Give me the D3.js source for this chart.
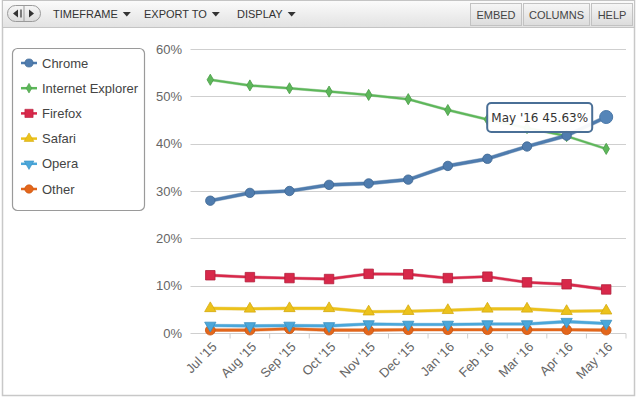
<!DOCTYPE html>
<html><head><meta charset="utf-8">
<script src="https://cdn.jsdelivr.net/npm/d3@7"></script>
<style>
body{margin:0;background:#fff;}
svg{display:block;font-family:"Liberation Sans",Arial,sans-serif;}
</style></head><body>
<svg id="c" width="640" height="397"></svg>
<script>
const months = ["Jul '15","Aug '15","Sep '15","Oct '15","Nov '15","Dec '15","Jan '16","Feb '16","Mar '16","Apr '16","May '16"];
const chrome  = [27.95,29.6,30.0,31.3,31.6,32.4,35.3,36.8,39.4,41.7,45.63];
const ie      = [53.5,52.3,51.7,51.0,50.3,49.4,47.1,45.1,43.3,41.6,38.9];
const firefox = [12.2,11.8,11.6,11.4,12.5,12.4,11.6,11.9,10.7,10.3,9.2];
const safari  = [5.2,5.1,5.2,5.2,4.5,4.6,4.8,5.1,5.1,4.6,4.7];
const opera   = [1.6,1.5,1.6,1.5,1.9,1.8,1.8,1.9,1.9,2.4,2.0];
const other   = [0.6,0.6,0.9,0.6,0.6,0.7,0.7,0.7,0.7,0.7,0.6];
const yTicks  = [0,10,20,30,40,50,60];
const seriesNames = ["Chrome","Internet Explorer","Firefox","Safari","Opera","Other"];
const menuItems = ["TIMEFRAME","EXPORT TO","DISPLAY"];
const rightButtons = ["EMBED","COLUMNS","HELP"];

const series = [
  {name:"Chrome", values:chrome, color:"#4f7cae", dark:"#3d6690", sym:d3.symbolCircle, size:70, w:3.2},
  {name:"Internet Explorer", values:ie, color:"#5db75a", dark:"#4a9c47", sym:d3.symbolDiamond, size:36, w:2},
  {name:"Firefox", values:firefox, color:"#d8284a", dark:"#b31f3c", sym:d3.symbolSquare, size:90, w:2.4},
  {name:"Safari", values:safari, color:"#ecc21b", dark:"#d4aa10", sym:d3.symbolTriangle, size:55, w:2.6},
  {name:"Opera", values:opera, color:"#4ba7da", dark:"#3a8fc0", sym:d3.symbolTriangle, size:55, w:2.6, rot:180},
  {name:"Other", values:other, color:"#e3661b", dark:"#c85510", sym:d3.symbolCircle, size:75, w:2.6}
];

const svg = d3.select("#c");

svg.append("rect").attr("x",2.5).attr("y",0.5).attr("width",632).attr("height",395)
  .attr("fill","#fff").attr("stroke","#c8c8c8").attr("stroke-width",1.5);

const defs = svg.append("defs");
const g1 = defs.append("linearGradient").attr("id","tb").attr("x1",0).attr("y1",0).attr("x2",0).attr("y2",1);
g1.append("stop").attr("offset","0%").attr("stop-color","#fbfbfb");
g1.append("stop").attr("offset","100%").attr("stop-color","#e2e2e2");
const g2 = defs.append("linearGradient").attr("id","bt").attr("x1",0).attr("y1",0).attr("x2",0).attr("y2",1);
g2.append("stop").attr("offset","0%").attr("stop-color","#f6f6f6");
g2.append("stop").attr("offset","100%").attr("stop-color","#dcdcdc");

svg.append("rect").attr("x",2.5).attr("y",0.5).attr("width",632).attr("height",27)
  .attr("fill","url(#tb)").attr("stroke","#c4c4c4");

svg.append("rect").attr("x",7.5).attr("y",5.5).attr("width",33).attr("height",16).attr("rx",8)
  .attr("fill","url(#bt)").attr("stroke","#9a9a9a");
svg.append("line").attr("x1",24).attr("x2",24).attr("y1",6).attr("y2",21).attr("stroke","#9a9a9a");
svg.append("path").attr("d","M13,13.5 L18,9.5 L18,17.5 Z").attr("fill","#333");
svg.append("path").attr("d","M21,9.5 L21,17.5").attr("stroke","#333").attr("stroke-width",1.2);
svg.append("path").attr("d","M29,9.5 L34,13.5 L29,17.5 Z").attr("fill","#333");

const menuX = [53,144,237];
menuItems.forEach((m,i)=>{
  const t = svg.append("text").attr("x",menuX[i]).attr("y",18).attr("font-size",11)
    .attr("fill","#333").text(m);
  const w = t.node().getComputedTextLength();
  const ax = menuX[i]+w+5;
  svg.append("path").attr("d",`M${ax},12 L${ax+8},12 L${ax+4},16.5 Z`).attr("fill","#333");
});

const btnX = [470,523,591], btnW = [52,67,42];
rightButtons.forEach((b,i)=>{
  svg.append("rect").attr("x",btnX[i]+0.5).attr("y",3.5).attr("width",btnW[i]-1).attr("height",22)
    .attr("fill","url(#bt)").attr("stroke","#c2c2c2");
  svg.append("text").attr("x",btnX[i]+btnW[i]/2).attr("y",18.5).attr("text-anchor","middle")
    .attr("font-size",11).attr("fill","#444").text(b);
});

const x = d3.scaleBand().domain(months).range([190.5,626]);
const y = d3.scaleLinear().domain([0,60]).range([333,49]);
const cx = d => x(d)+x.bandwidth()/2;

const grid = svg.append("g");
grid.selectAll("line").data(yTicks).join("line")
  .attr("x1",190.5).attr("x2",626).attr("y1",d=>Math.round(y(d))+0.5).attr("y2",d=>Math.round(y(d))+0.5)
  .attr("stroke","#cfcfcf").attr("stroke-width",1.2);

const yAxis = d3.axisLeft(y).tickValues(yTicks).tickSize(0).tickPadding(0).tickFormat(d=>d+"%");
const ya = svg.append("g").attr("transform","translate(182,0)").call(yAxis);
ya.select(".domain").remove();
ya.selectAll("text").attr("font-size",13).attr("fill","#666").attr("font-family","Liberation Sans, Arial, sans-serif");

const xa = svg.append("g").attr("transform",`translate(0,${Math.round(y(0))+0.5})`);
xa.selectAll("line.tk").data(months).join("line").attr("class","tk")
  .attr("x1",d=>x(d)+x.bandwidth()).attr("x2",d=>x(d)+x.bandwidth())
  .attr("y1",0).attr("y2",5).attr("stroke","#cfcfcf");
xa.selectAll("text").data(months).join("text")
  .attr("transform",d=>`translate(${cx(d)+4},${11}) rotate(-45)`)
  .attr("text-anchor","end").attr("font-size",13).attr("fill","#666").attr("dy","0.35em")
  .text(d=>d);

const line = d3.line().x((d,i)=>cx(months[i])).y(d=>y(d));
const plot = svg.append("g");
series.slice().reverse().forEach(s=>{
  plot.append("path").datum(s.values).attr("d",line).attr("fill","none")
    .attr("stroke",s.dark).attr("stroke-width",s.w+1).attr("stroke-linejoin","round").attr("opacity",0.4);
  plot.append("path").datum(s.values).attr("d",line).attr("fill","none")
    .attr("stroke",s.color).attr("stroke-width",s.w).attr("stroke-linejoin","round");
  plot.selectAll(null).data(s.values).join("path")
    .attr("d",d3.symbol().type(s.sym).size(s.size))
    .attr("transform",(d,i)=>`translate(${cx(months[i])},${y(d)})${s.rot?" rotate("+s.rot+")":""}`)
    .attr("fill",s.color).attr("stroke",s.dark).attr("stroke-width",0.8);
});

const last = chrome.length-1;
plot.append("circle").attr("cx",cx(months[last])).attr("cy",y(chrome[last])).attr("r",6.5)
  .attr("fill","#5585b8").attr("stroke","#4a78a8");

const tx = cx(months[last]) - 119, ty = y(chrome[last]) - 14;
svg.append("rect").attr("x",tx).attr("y",ty).attr("width",105).attr("height",29).attr("rx",4)
  .attr("fill","#fff").attr("fill-opacity",0.95).attr("stroke","#4a6f96").attr("stroke-width",2);
svg.append("text").attr("x",tx+52.5).attr("y",ty+19).attr("text-anchor","middle")
  .attr("font-family","DejaVu Sans, Verdana, sans-serif").attr("font-size",12).attr("fill","#333")
  .text(`${months[last]} ${chrome[last].toFixed(2)}%`);

svg.append("rect").attr("x",12.5).attr("y",48.5).attr("width",132).attr("height",162).attr("rx",5)
  .attr("fill","#fff").attr("stroke","#9a9a9a").attr("stroke-width",1.2);
const lg = svg.append("g");
series.forEach((s,i)=>{
  const ly = 63 + i*25.2;
  lg.append("line").attr("x1",21).attr("x2",37).attr("y1",ly).attr("y2",ly)
    .attr("stroke",s.color).attr("stroke-width",2.5);
  lg.append("path").attr("d",d3.symbol().type(s.sym).size(s.size*0.75))
    .attr("transform",`translate(29,${ly})${s.rot?" rotate("+s.rot+")":""}`)
    .attr("fill",s.color).attr("stroke",s.dark).attr("stroke-width",0.6);
  lg.append("text").attr("x",42).attr("y",ly).attr("dy","0.35em").attr("font-size",13)
    .attr("fill","#444").text(seriesNames[i]);
});
</script>
</body></html>
